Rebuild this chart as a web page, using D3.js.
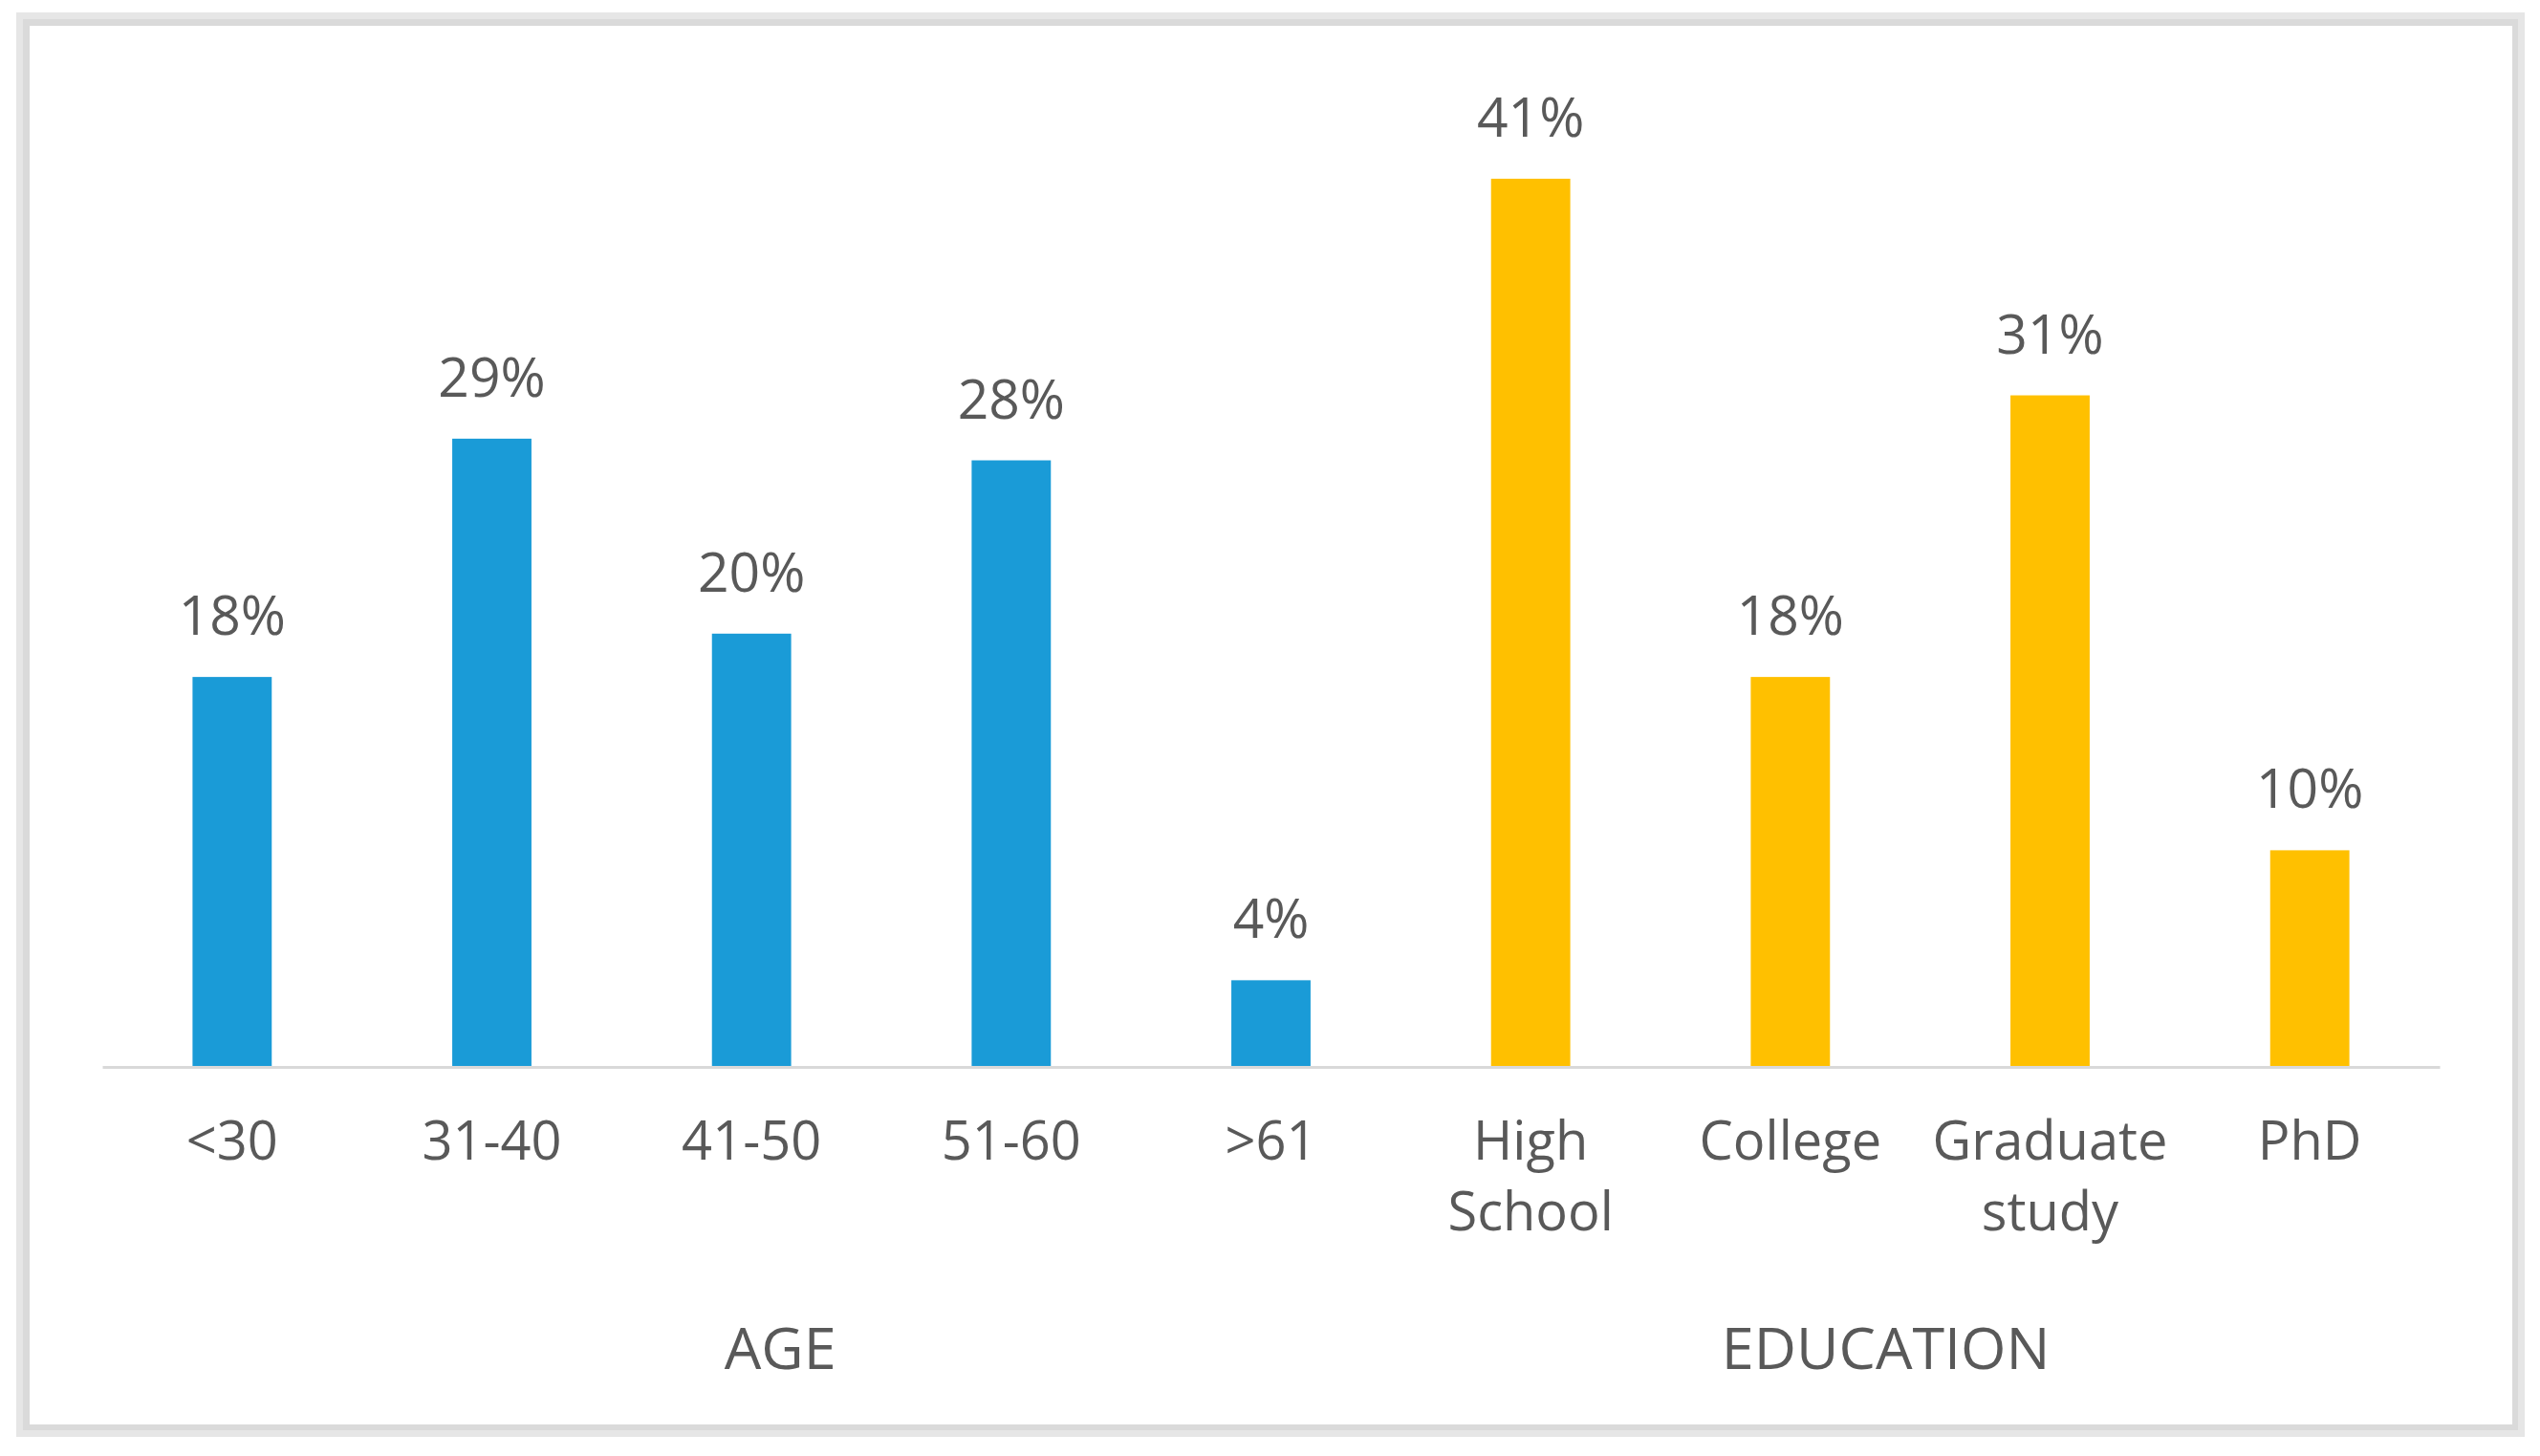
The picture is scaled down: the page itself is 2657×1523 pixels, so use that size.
<!DOCTYPE html>
<html>
<head>
<meta charset="utf-8">
<script src="https://cdn.jsdelivr.net/npm/d3@7"></script>
<style>
  body { margin: 0; background: #ffffff; }
  text { font-family: "Open Sans", "Noto Sans", sans-serif; fill: #595959; }
</style>
</head>
<body>
<div id="chart"></div>
<script>
// data
var ageCats = ["<30", "31-40", "41-50", "51-60", ">61"];
var ageVals = [0.18, 0.29, 0.20, 0.28, 0.04];
var eduCats = ["High School", "College", "Graduate study", "PhD"];
var eduVals = [0.41, 0.18, 0.31, 0.10];
var groupNames = ["AGE", "EDUCATION"];

var width = 2657, height = 1523;
var blue = "#1a9bd7", yellow = "#ffc000";

var data = [];
for (var i = 0; i < ageCats.length; i++) data.push({ cat: ageCats[i], value: ageVals[i], group: 0 });
for (var i = 0; i < eduCats.length; i++) data.push({ cat: eduCats[i], value: eduVals[i], group: 1 });

var svg = d3.select("#chart").append("svg")
    .attr("width", width)
    .attr("height", height);

// frame round the chart
svg.append("rect").attr("x", 17).attr("y", 13).attr("width", 2624).attr("height", 1490).attr("fill", "#e6e6e6");
svg.append("rect").attr("x", 24).attr("y", 20).attr("width", 2610).attr("height", 1476).attr("fill", "#dadada");
svg.append("rect").attr("x", 31).attr("y", 27).attr("width", 2597).attr("height", 1463).attr("fill", "#ffffff");

var baseY = 1116;

var x = d3.scaleBand()
    .domain(data.map(function (d) { return d.cat; }))
    .range([107, 2552])
    .padding(0);

var y = d3.scaleLinear()
    .domain([0, 0.45])
    .range([baseY, baseY - 45 * 22.66]);

var barW = x.bandwidth() * 0.305;

// bars
svg.append("g")
    .selectAll("rect")
    .data(data)
    .enter().append("rect")
    .attr("x", function (d) { return x(d.cat) + (x.bandwidth() - barW) / 2; })
    .attr("y", function (d) { return y(d.value); })
    .attr("width", barW)
    .attr("height", function (d) { return baseY - y(d.value); })
    .attr("fill", function (d) { return d.group == 0 ? blue : yellow; });

// value labels
svg.append("g")
    .selectAll("text")
    .data(data)
    .enter().append("text")
    .attr("x", function (d) { return x(d.cat) + x.bandwidth() / 2; })
    .attr("y", function (d) { return y(d.value) - 44; })
    .attr("text-anchor", "middle")
    .style("font-size", "57px")
    .text(function (d) { return d3.format(".0%")(d.value); });

// category axis
var axis = svg.append("g")
    .attr("transform", "translate(0," + baseY + ")")
    .call(d3.axisBottom(x).tickSize(0).tickSizeOuter(0));

axis.select(".domain").attr("stroke", "#d9d9d9").attr("stroke-width", 3);

axis.selectAll(".tick text")
    .attr("y", 97)
    .attr("dy", null)
    .style("font-size", "56px")
    .attr("font-family", null)
    .attr("fill", "#595959")
    .each(function (d) {
        var t = d3.select(this);
        var words = d.split(" ");
        t.text(null);
        words.forEach(function (w, k) {
            t.append("tspan").attr("x", 0).attr("dy", k == 0 ? 0 : 74).text(w);
        });
    });

// group labels
var groupDx = [30, -36];
var groups = [ageCats, eduCats];
svg.append("g")
    .selectAll("text")
    .data(groupNames)
    .enter().append("text")
    .attr("x", function (d, i) {
        var c = groups[i];
        var left = x(c[0]), right = x(c[c.length - 1]) + x.bandwidth();
        return (left + right) / 2 + groupDx[i];
    })
    .attr("y", 1432)
    .attr("text-anchor", "middle")
    .style("font-size", "61px")
    .text(function (d) { return d; });
</script>
</body>
</html>
